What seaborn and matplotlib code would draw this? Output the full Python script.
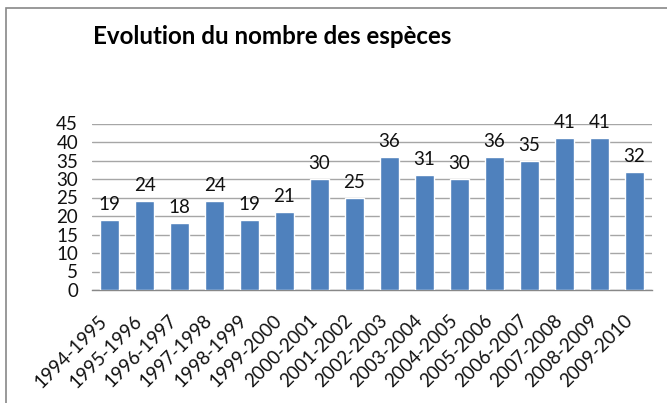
import matplotlib
matplotlib.use("Agg")
import matplotlib.pyplot as plt
import seaborn as sns
import pandas as pd
from matplotlib.patches import Rectangle
import matplotlib.transforms as mtransforms

periods = ["1994-1995", "1995-1996", "1996-1997", "1997-1998", "1998-1999",
           "1999-2000", "2000-2001", "2001-2002", "2002-2003", "2003-2004",
           "2004-2005", "2005-2006", "2006-2007", "2007-2008", "2008-2009",
           "2009-2010"]
species = [19, 24, 18, 24, 19, 21, 30, 25, 36, 31, 30, 36, 35, 41, 41, 32]
yticks = [0, 5, 10, 15, 20, 25, 30, 35, 40, 45]

df = pd.DataFrame({"period": periods, "species": species})

sns.set_theme(style="white")
plt.rcParams["font.family"] = ["Lato", "DejaVu Sans"]

fig = plt.figure(figsize=(6.67, 4.03), dpi=100)
ax = fig.add_axes([92/667, 1-290/403, (652-92)/667, (290-123.5)/403])

sns.barplot(data=df, x="period", y="species", color="#4F81BD", saturation=1,
            width=0.57, ax=ax, zorder=3)

ax.set_ylim(0, 45)
ax.set_yticks(yticks)
ax.set_xlim(-0.5, len(periods) - 0.5)
ax.yaxis.grid(True, color="#A6A6A6", linewidth=1.0, zorder=0)
ax.set_axisbelow(True)
for s in ["left", "right", "top"]:
    ax.spines[s].set_visible(False)
ax.spines["bottom"].set_color("#888888")
ax.spines["bottom"].set_linewidth(1.0)
ax.set_xlabel("")
ax.set_ylabel("")
ax.tick_params(axis="y", length=0, pad=10, labelsize=13.5, labelcolor="#111111")
ax.tick_params(axis="x", length=0, pad=0, labelsize=13.5, labelcolor="#111111")
ax.set_xticks(range(len(periods)))
ax.set_xticklabels(periods, rotation=45, ha="right", va="top", rotation_mode="anchor")
off = mtransforms.ScaledTranslation(-11/100, -22/100, fig.dpi_scale_trans)
for lab in ax.get_xticklabels():
    lab.set_transform(lab.get_transform() + off)

for c in ax.containers:
    ax.bar_label(c, labels=[str(v) for v in species], padding=5, fontsize=13.5, color="#111111")

fig.text(272/667, 1-43.5/403, "Evolution du nombre des espèces", ha="center", va="baseline",
         fontsize=17.4, fontweight="bold", color="black")

fig.patches.append(Rectangle((6/667, -0.1), 1.2, 1 - 8/403 + 0.1, transform=fig.transFigure,
                             fill=False, edgecolor="#888888", linewidth=1.2))

fig.savefig("out.png", dpi=100)
